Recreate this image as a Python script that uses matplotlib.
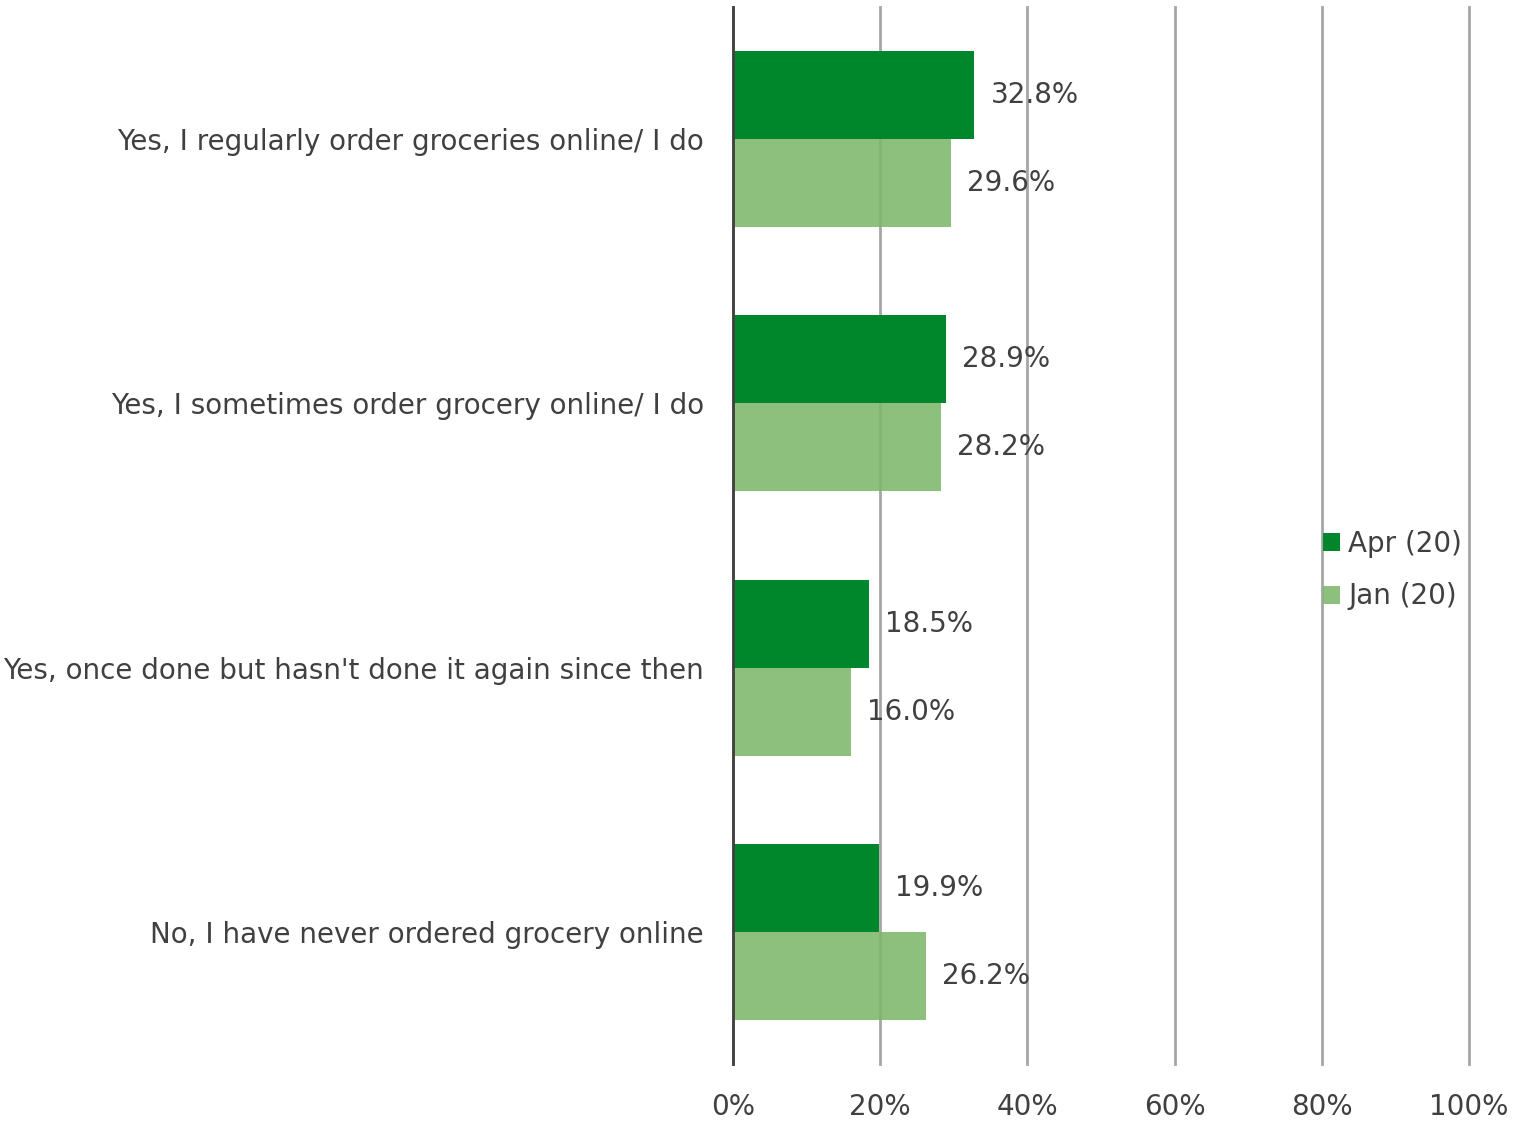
import matplotlib
matplotlib.use("Agg")
import matplotlib.pyplot as plt
from matplotlib.patches import Patch
from matplotlib.ticker import FixedLocator

categories = [
    "Yes, I regularly order groceries online/ I do",
    "Yes, I sometimes order grocery online/ I do",
    "Yes, once done but hasn't done it again since then",
    "No, I have never ordered grocery online",
]
series_names = ["Apr (20)", "Jan (20)"]
apr_values = [32.8, 28.9, 18.5, 19.9]
jan_values = [29.6, 28.2, 16.0, 26.2]
x_ticks = [0, 20, 40, 60, 80, 100]
x_tick_labels = ["0%", "20%", "40%", "60%", "80%", "100%"]

dark_green = "#00862B"
light_green = "#7DB86A"
text_color = "#404040"
font_size = 20

plt.rcParams["font.family"] = ["DejaVu Sans"]

fig = plt.figure(figsize=(15.27, 11.24), dpi=100)
ax = fig.add_axes([733 / 1527, 1 - 1064 / 1124, (1469 - 733) / 1527, (1064 - 7) / 1124])

h = 0.333
ys = list(range(len(categories)))
ax.barh([y - h / 2 for y in ys], apr_values, height=h, color=dark_green, zorder=3)
ax.barh([y + h / 2 for y in ys], jan_values, height=h, color=light_green, alpha=0.88, zorder=3)

for y, a, j in zip(ys, apr_values, jan_values):
    ax.annotate(f"{a:.1f}%", (a, y - h / 2), xytext=(16, 0), textcoords="offset pixels",
                va="center", ha="left", fontsize=font_size, color=text_color, zorder=4)
    ax.annotate(f"{j:.1f}%", (j, y + h / 2), xytext=(16, 0), textcoords="offset pixels",
                va="center", ha="left", fontsize=font_size, color=text_color, zorder=4)

ax.set_xlim(0, 100)
ax.set_ylim(len(categories) - 0.5, -0.5)
ax.xaxis.set_major_locator(FixedLocator(x_ticks))
ax.set_xticklabels(x_tick_labels)
ax.set_yticks(ys)
ax.set_yticklabels(categories)
ax.tick_params(axis="x", length=0, pad=21, labelsize=font_size, labelcolor=text_color)
ax.tick_params(axis="y", length=0, pad=21, labelsize=font_size, labelcolor=text_color)

ax.grid(axis="x", color="#A6A6A6", linewidth=2, zorder=1)
ax.set_axisbelow(True)
for gl in ax.get_xgridlines():
    gl.set_clip_on(False)
for s in ["top", "right", "bottom"]:
    ax.spines[s].set_visible(False)
ax.spines["left"].set_color("#404040")
ax.spines["left"].set_linewidth(2)
ax.spines["left"].set_zorder(5)

handles = [Patch(facecolor=dark_green, edgecolor="none"),
           Patch(facecolor=light_green, alpha=0.88, edgecolor="none")]
fig.legend(handles, series_names, loc="center left", bbox_to_anchor=(1298 / 1527, 1 - 570 / 1124),
           frameon=False, fontsize=font_size, labelcolor=text_color,
           handlelength=0.6, handleheight=0.6, handletextpad=0.3, labelspacing=0.9)

fig.savefig("out.png", dpi=100)
